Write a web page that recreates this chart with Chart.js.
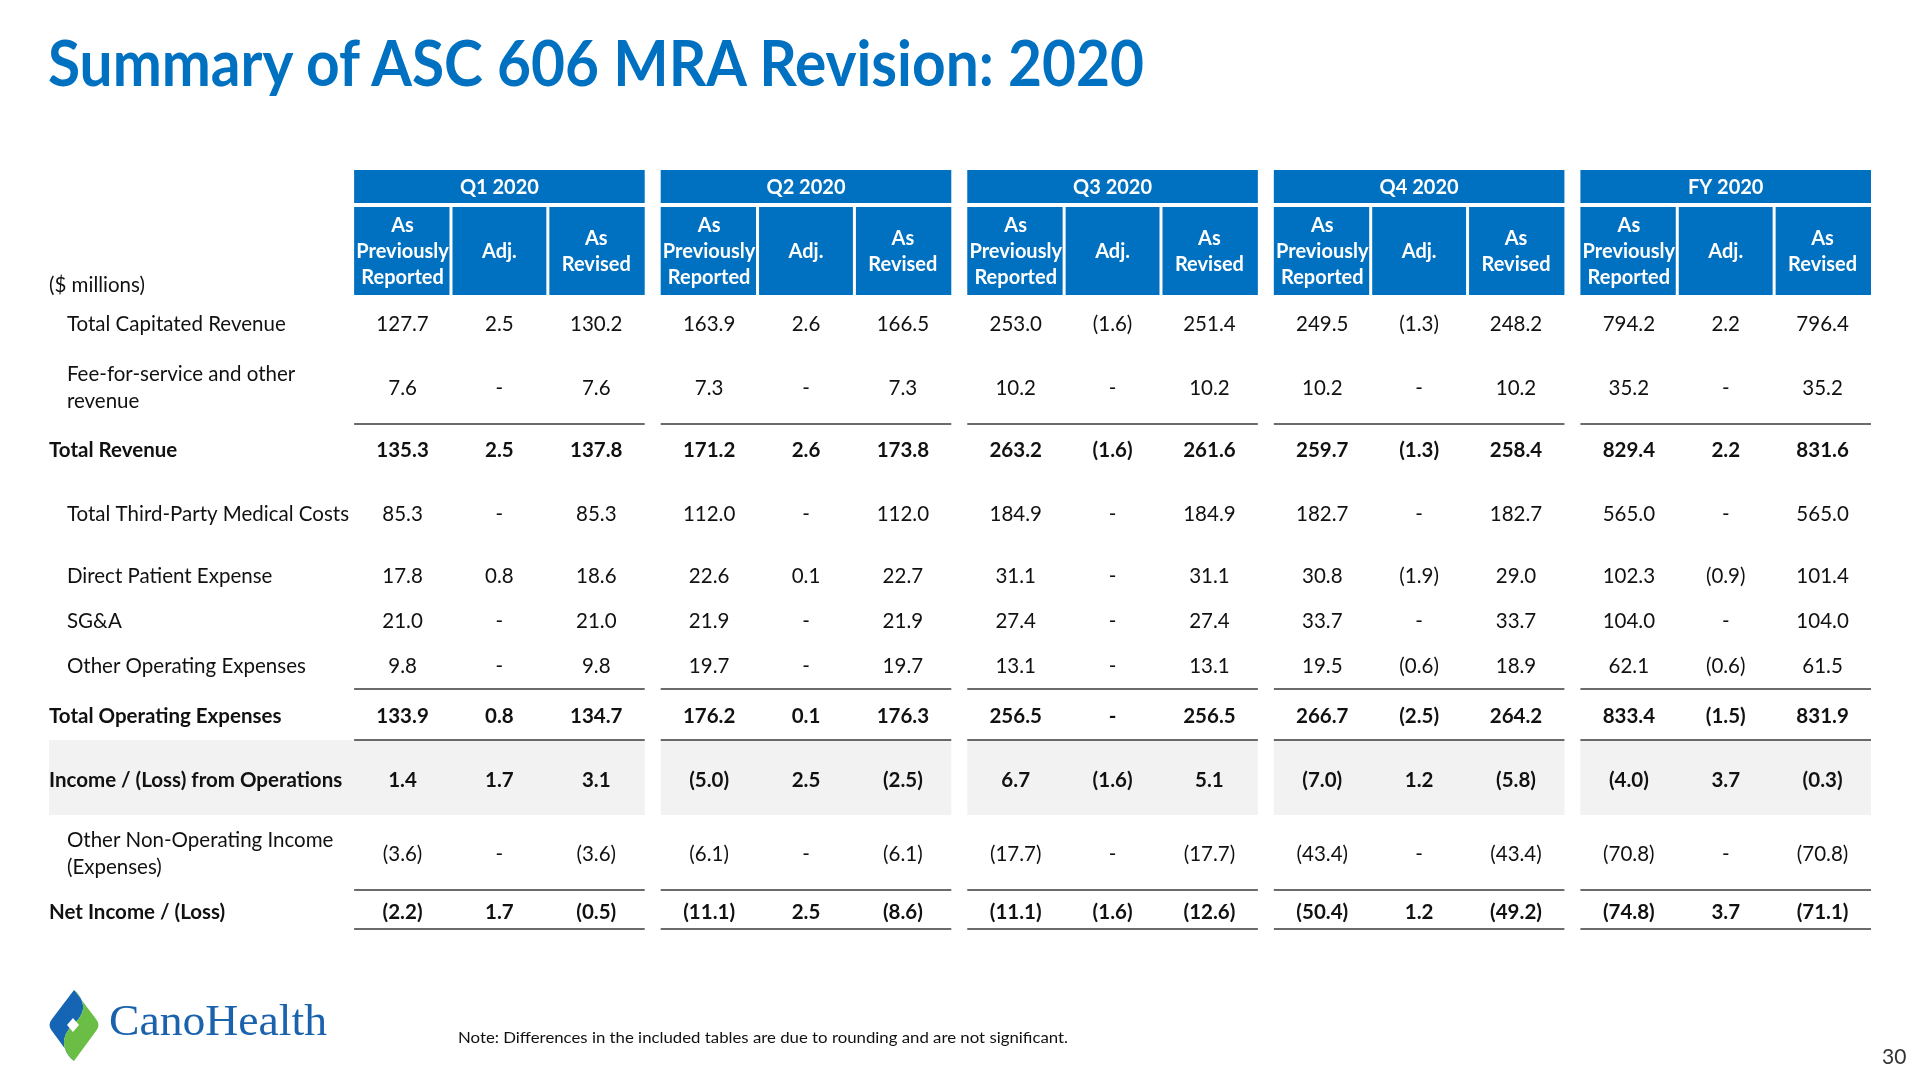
<!DOCTYPE html>
<html>
<head>
<meta charset="utf-8">
<title>Summary of ASC 606 MRA Revision: 2020</title>
<script src="https://cdn.jsdelivr.net/npm/chart.js@4.4.1/dist/chart.umd.min.js"></script>
<style>
html, body { margin: 0; padding: 0; background: #fff; }
#page { position: relative; width: 1920px; height: 1080px; overflow: hidden; font-family: Lato, "Open Sans", sans-serif; }
#tbl { position: absolute; left: 0; top: 0; }
.fit { position: absolute; white-space: nowrap; line-height: 1; transform-origin: 0 0; }
#title { left: 48px; top: 30px; font-size: 64px; font-weight: bold; color: #0070c0; }
#note { left: 458px; top: 1030px; font-size: 15px; color: #111; }
#pagenum { left: 1882px; top: 1045px; font-size: 21px; color: #333; }
#brand { left: 109px; top: 998px; font-family: "Liberation Serif", "DejaVu Serif", serif; font-size: 45px; color: #1b62ad; }
#logo { position: absolute; left: 0; top: 0; }
</style>
</head>
<body>
<div id="page">
  <canvas id="tbl" width="1920" height="1080"></canvas>
  <div id="title" class="fit" data-w="1096">Summary of ASC 606 MRA Revision: 2020</div>
  <svg id="logo" width="120" height="1080" viewBox="0 0 120 1080">
    <path d="M74,990 C90,1005 82,1017 73,1025 C64,1033 58,1047 74,1061 L52,1031 Q47,1025 52,1019 Z" fill="#1565b4"/>
    <path d="M74,990 L96,1019 Q101,1025 96,1031 L74,1061 C58,1047 64,1033 73,1025 C82,1017 90,1005 74,990 Z" fill="#6abd45"/>
    <path d="M73,1018 L79,1025 L73,1032 L67,1025 Z" fill="#fff"/>
  </svg>
  <div id="brand" class="fit" data-w="218">CanoHealth</div>
  <div id="note" class="fit" data-w="610">Note: Differences in the included tables are due to rounding and are not significant.</div>
  <div id="pagenum" class="fit">30</div>
</div>
<script>
// column groups and sub headers
var periods  = ["Q1 2020", "Q2 2020", "Q3 2020", "Q4 2020", "FY 2020"];
var subHeads = [["As", "Previously", "Reported"], ["Adj."], ["As", "Revised"]];
var unitLabel = "($ millions)";

// row labels, top to bottom
var rowLabels = [
        ["Total Capitated Revenue"],
        ["Fee-for-service and other", "revenue"],
        ["Total Revenue"],
        ["Total Third-Party Medical Costs"],
        ["Direct Patient Expense"],
        ["SG&A"],
        ["Other Operating Expenses"],
        ["Total Operating Expenses"],
        ["Income / (Loss) from Operations"],
        ["Other Non-Operating Income", "(Expenses)"],
        ["Net Income / (Loss)"]
];

// values per row: Q1..FY, each as previously reported / adj. / as revised (null = "-")
var totalCapitatedRevenue = [127.7, 2.5, 130.2, 163.9, 2.6, 166.5, 253.0, -1.6, 251.4, 249.5, -1.3, 248.2, 794.2, 2.2, 796.4];
var feeForServiceRevenue  = [7.6, null, 7.6, 7.3, null, 7.3, 10.2, null, 10.2, 10.2, null, 10.2, 35.2, null, 35.2];
var totalRevenue          = [135.3, 2.5, 137.8, 171.2, 2.6, 173.8, 263.2, -1.6, 261.6, 259.7, -1.3, 258.4, 829.4, 2.2, 831.6];
var thirdPartyMedical     = [85.3, null, 85.3, 112.0, null, 112.0, 184.9, null, 184.9, 182.7, null, 182.7, 565.0, null, 565.0];
var directPatientExpense  = [17.8, 0.8, 18.6, 22.6, 0.1, 22.7, 31.1, null, 31.1, 30.8, -1.9, 29.0, 102.3, -0.9, 101.4];
var sgaExpense            = [21.0, null, 21.0, 21.9, null, 21.9, 27.4, null, 27.4, 33.7, null, 33.7, 104.0, null, 104.0];
var otherOperating        = [9.8, null, 9.8, 19.7, null, 19.7, 13.1, null, 13.1, 19.5, -0.6, 18.9, 62.1, -0.6, 61.5];
var totalOperating        = [133.9, 0.8, 134.7, 176.2, 0.1, 176.3, 256.5, null, 256.5, 266.7, -2.5, 264.2, 833.4, -1.5, 831.9];
var incomeFromOperations  = [1.4, 1.7, 3.1, -5.0, 2.5, -2.5, 6.7, -1.6, 5.1, -7.0, 1.2, -5.8, -4.0, 3.7, -0.3];
var nonOperatingIncome    = [-3.6, null, -3.6, -6.1, null, -6.1, -17.7, null, -17.7, -43.4, null, -43.4, -70.8, null, -70.8];
var netIncome             = [-2.2, 1.7, -0.5, -11.1, 2.5, -8.6, -11.1, -1.6, -12.6, -50.4, 1.2, -49.2, -74.8, 3.7, -71.1];

var rowValues = [totalCapitatedRevenue, feeForServiceRevenue, totalRevenue, thirdPartyMedical,
                 directPatientExpense, sgaExpense, otherOperating, totalOperating,
                 incomeFromOperations, nonOperatingIncome, netIncome];

// layout (y in table units from top of header, x in sub-column units)
var rowY     = [154, 218, 280, 344, 406, 451, 496, 546, 610, 684, 742];
var rowBold  = [false, false, true, false, false, false, false, true, true, false, true];
var ruleY    = [254, 519, 570, 720, 759];
var GAP      = 0.165;
var LABEL_X  = -3.15;
var INDENT_X = -2.965;

var BLUE = "#0070c0";
var FONT = "Lato, 'Open Sans', sans-serif";
var BODY_PX = 20.5;
var HEAD_PX = 20;

function colLeft(b, s) { return b * (3 + GAP) + s; }

function fmt(v)
{
        if (v === null) return "-";
        if (v < 0) return "(" + Math.abs(v).toFixed(1) + ")";
        return v.toFixed(1);
}

var tablePlugin = {
        id: "tableCells",
        afterDraw: function(chart) {
                var ctx = chart.ctx;
                var xs = chart.scales.x, ys = chart.scales.y;
                var X = function(v) { return xs.getPixelForValue(v); };
                var Y = function(v) { return ys.getPixelForValue(v); };
                var b, s, r, i;

                ctx.save();

                // grey band behind income from operations
                var bt = Y(570), bb = Y(645);
                ctx.fillStyle = "#f2f2f2";
                ctx.fillRect(X(LABEL_X), bt, X(colLeft(0, 3)) - X(LABEL_X), bb - bt);
                for (b = 1; b < periods.length; b++) {
                        ctx.fillRect(X(colLeft(b, 0)), bt, X(colLeft(b, 3)) - X(colLeft(b, 0)), bb - bt);
                }

                // header cells
                ctx.fillStyle = BLUE;
                for (b = 0; b < periods.length; b++) {
                        ctx.fillRect(X(colLeft(b, 0)), Y(0), X(colLeft(b, 3)) - X(colLeft(b, 0)), Y(33) - Y(0));
                        for (s = 0; s < 3; s++) {
                                var l = X(colLeft(b, s)) + (s > 0 ? 1.5 : 0);
                                var rr = X(colLeft(b, s + 1)) - (s < 2 ? 1.5 : 0);
                                ctx.fillRect(l, Y(37), rr - l, Y(125) - Y(37));
                        }
                }

                ctx.textBaseline = "middle";
                ctx.textAlign = "center";
                ctx.fillStyle = "#fff";
                ctx.font = "bold " + HEAD_PX + "px " + FONT;
                for (b = 0; b < periods.length; b++) {
                        ctx.fillText(periods[b], X(colLeft(b, 1.5)), Y(17.5));
                        for (s = 0; s < 3; s++) {
                                var lines = subHeads[s];
                                var cy = 82 - (lines.length - 1) * 13;
                                for (i = 0; i < lines.length; i++) {
                                        ctx.fillText(lines[i], X(colLeft(b, s + 0.5)), Y(cy + i * 26));
                                }
                        }
                }

                // rules under subtotals
                ctx.strokeStyle = "#3a3a3a";
                ctx.lineWidth = 1.5;
                for (i = 0; i < ruleY.length; i++) {
                        for (b = 0; b < periods.length; b++) {
                                ctx.beginPath();
                                ctx.moveTo(X(colLeft(b, 0)), Y(ruleY[i]));
                                ctx.lineTo(X(colLeft(b, 3)), Y(ruleY[i]));
                                ctx.stroke();
                        }
                }

                // unit label
                ctx.fillStyle = "#111";
                ctx.textAlign = "left";
                ctx.font = BODY_PX + "px " + FONT;
                ctx.fillText(unitLabel, X(LABEL_X), Y(115));

                // body rows
                for (r = 0; r < rowLabels.length; r++) {
                        ctx.font = (rowBold[r] ? "bold " : "") + BODY_PX + "px " + FONT;
                        ctx.textAlign = "left";
                        var lab = rowLabels[r];
                        var ly = rowY[r] - (lab.length - 1) * 13.5;
                        for (i = 0; i < lab.length; i++) {
                                ctx.fillText(lab[i], X(rowBold[r] ? LABEL_X : INDENT_X), Y(ly + i * 27));
                        }
                        ctx.textAlign = "center";
                        for (b = 0; b < periods.length; b++) {
                                for (s = 0; s < 3; s++) {
                                        ctx.fillText(fmt(rowValues[r][b * 3 + s]), X(colLeft(b, s + 0.5)), Y(rowY[r]));
                                }
                        }
                }

                ctx.restore();
        }
};

var TableChart = new Chart(document.getElementById("tbl"), {
        type: "scatter",
        data: { datasets: [{ data: [], pointRadius: 0 }] },
        options: {
                responsive: false,
                animation: false,
                devicePixelRatio: 1,
                events: [],
                layout: { padding: { left: 49, right: 49, top: 170, bottom: 150 } },
                scales: {
                        x: { type: "linear", min: LABEL_X, max: 5 * 3 + 4 * GAP, display: false },
                        y: { type: "linear", min: 0, max: 760, reverse: true, display: false }
                },
                plugins: {
                        legend: { display: false },
                        tooltip: { enabled: false }
                }
        },
        plugins: [tablePlugin]
});

// squeeze the free texts to the reference widths
var fits = document.querySelectorAll(".fit[data-w]");
for (var k = 0; k < fits.length; k++) {
        var w = fits[k].getBoundingClientRect().width;
        var want = parseFloat(fits[k].getAttribute("data-w"));
        if (w > 0) fits[k].style.transform = "scaleX(" + (want / w) + ")";
}
</script>
</body>
</html>
